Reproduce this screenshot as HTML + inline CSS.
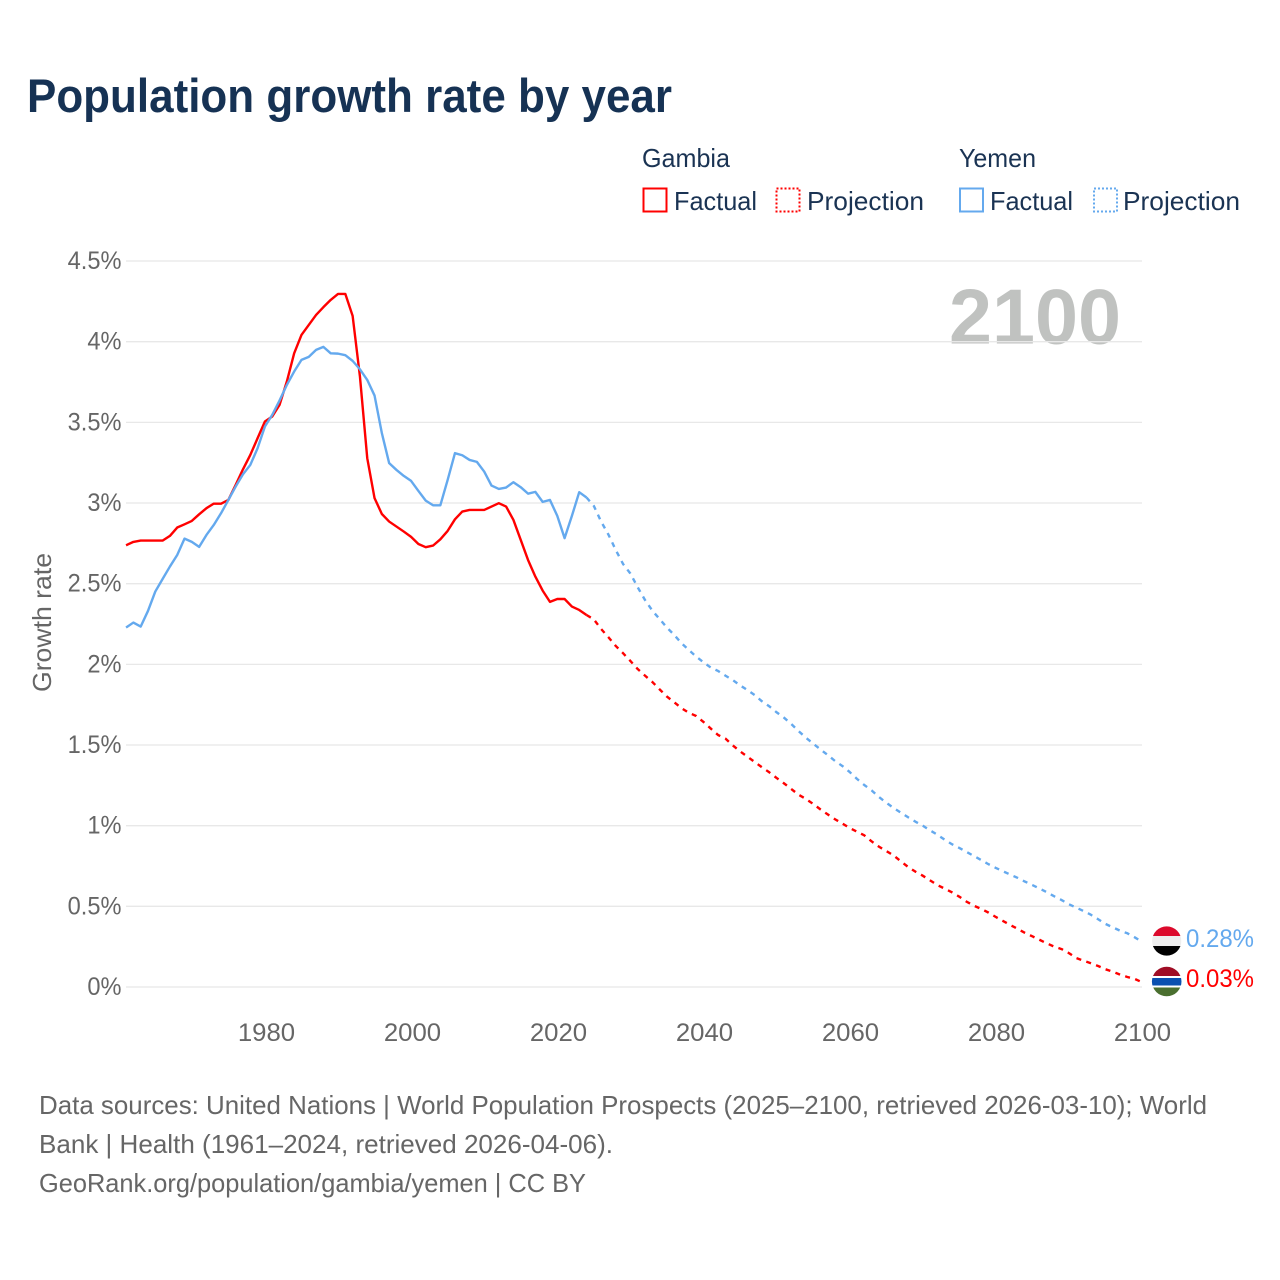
<!DOCTYPE html>
<html lang="en">
<head>
<meta charset="utf-8">
<title>Population growth rate by year</title>
<style>
html,body{margin:0;padding:0;background:#fff;width:1280px;height:1280px;overflow:hidden}
svg{display:block;font-family:"Liberation Sans",Arial,sans-serif}
</style>
</head>
<body>
<svg id="chart" xmlns="http://www.w3.org/2000/svg" width="1280" height="1280" viewBox="0 0 1280 1280">
  <rect x="0" y="0" width="1280" height="1280" fill="#ffffff"/>
  <text x="27" y="112" font-size="47" font-weight="700" fill="#163254" textLength="645" lengthAdjust="spacingAndGlyphs">Population growth rate by year</text>

  <g font-size="26" fill="#1a3353">
    <text x="642" y="167" textLength="88" lengthAdjust="spacingAndGlyphs">Gambia</text>
    <text x="959" y="167" textLength="77" lengthAdjust="spacingAndGlyphs">Yemen</text>
    <rect x="643.5" y="188.5" width="23" height="23" fill="none" stroke="#ff0000" stroke-width="2"/>
    <text x="674" y="210" textLength="83" lengthAdjust="spacingAndGlyphs">Factual</text>
    <rect x="776.5" y="188.5" width="23" height="23" fill="none" stroke="#ff0000" stroke-width="2" stroke-dasharray="2 2"/>
    <text x="807" y="210" textLength="117" lengthAdjust="spacingAndGlyphs">Projection</text>
    <rect x="960" y="188.5" width="23" height="23" fill="none" stroke="#64a9ee" stroke-width="2"/>
    <text x="990" y="210" textLength="83" lengthAdjust="spacingAndGlyphs">Factual</text>
    <rect x="1094" y="188.5" width="23" height="23" fill="none" stroke="#64a9ee" stroke-width="2" stroke-dasharray="2 2"/>
    <text x="1123" y="210" textLength="117" lengthAdjust="spacingAndGlyphs">Projection</text>
  </g>

  <text x="949" y="343.5" font-size="78" font-weight="700" fill="#c0c2c0" textLength="172" lengthAdjust="spacingAndGlyphs">2100</text>

  <g id="grid"></g>
  <g id="yTicks" font-size="25" fill="#666666" text-anchor="end"></g>
  <g id="xTicks" font-size="25" fill="#666666" text-anchor="middle"></g>

  <text transform="translate(51,622.5) rotate(-90)" text-anchor="middle" font-size="26" fill="#666666" textLength="139" lengthAdjust="spacingAndGlyphs">Growth rate</text>

  <g id="series" fill="none" stroke-width="2.4" stroke-linejoin="round"></g>

  <g>
    <clipPath id="clipYemen"><circle cx="1166.7" cy="941" r="14.6"/></clipPath>
    <g clip-path="url(#clipYemen)">
      <rect x="1150" y="925" width="34" height="11" fill="#dc0a2c"/>
      <rect x="1150" y="936" width="34" height="10" fill="#eeeeee"/>
      <rect x="1150" y="946" width="34" height="12" fill="#000000"/>
    </g>
  </g>
  <g>
    <clipPath id="clipGambia"><circle cx="1166.7" cy="981.5" r="14.8"/></clipPath>
    <g clip-path="url(#clipGambia)">
      <rect x="1150" y="965" width="34" height="11" fill="#a00d25"/>
      <rect x="1150" y="976" width="34" height="2" fill="#ffffff"/>
      <rect x="1150" y="978" width="34" height="7.5" fill="#0a50b0"/>
      <rect x="1150" y="985.5" width="34" height="2" fill="#ffffff"/>
      <rect x="1150" y="987.5" width="34" height="11" fill="#4a6f2f"/>
    </g>
  </g>
  <text x="1186" y="947" font-size="25" fill="#64a9ee" textLength="68" lengthAdjust="spacingAndGlyphs">0.28%</text>
  <text x="1186" y="987" font-size="25" fill="#ff0000" textLength="68" lengthAdjust="spacingAndGlyphs">0.03%</text>

  <g font-size="26" fill="#666666">
    <text x="39" y="1114" textLength="1168" lengthAdjust="spacingAndGlyphs">Data sources: United Nations | World Population Prospects (2025–2100, retrieved 2026-03-10); World</text>
    <text x="39" y="1153" textLength="574" lengthAdjust="spacingAndGlyphs">Bank | Health (1961–2024, retrieved 2026-04-06).</text>
    <text x="39" y="1192" textLength="547" lengthAdjust="spacingAndGlyphs">GeoRank.org/population/gambia/yemen | CC BY</text>
  </g>
</svg>
<script>
const yTickValues = [0, 0.5, 1, 1.5, 2, 2.5, 3, 3.5, 4, 4.5];
const yTickLabels = ['0%', '0.5%', '1%', '1.5%', '2%', '2.5%', '3%', '3.5%', '4%', '4.5%'];
const xTickYears = [1980, 2000, 2020, 2040, 2060, 2080, 2100];
const factualStartYear = 1961;
const projectionStartYear = 2024;

const gambiaFactual = [
  2.738, 2.759, 2.767, 2.767, 2.767, 2.767, 2.796, 2.848, 2.868,
  2.889, 2.930, 2.968, 2.996, 2.996, 3.019, 3.112, 3.209, 3.298, 3.402,
  3.505, 3.536, 3.608, 3.753, 3.928, 4.042, 4.104, 4.166, 4.214, 4.259,
  4.296, 4.296, 4.160, 3.784, 3.278, 3.030, 2.932, 2.885, 2.854, 2.823,
  2.790, 2.746, 2.726, 2.736, 2.775, 2.827, 2.899, 2.947, 2.957, 2.957,
  2.957, 2.978, 2.999, 2.978, 2.895, 2.771, 2.647, 2.544, 2.457, 2.387,
  2.405, 2.405, 2.358, 2.337, 2.306
];
const yemenFactual = [
  2.228, 2.259, 2.234, 2.331, 2.451, 2.529, 2.606, 2.678, 2.779,
  2.759, 2.728, 2.802, 2.864, 2.937, 3.019, 3.102, 3.178, 3.236, 3.340,
  3.474, 3.546, 3.635, 3.732, 3.815, 3.887, 3.906, 3.949, 3.968, 3.928,
  3.926, 3.916, 3.881, 3.829, 3.763, 3.666, 3.433, 3.247, 3.205, 3.168,
  3.137, 3.075, 3.015, 2.986, 2.986, 3.143, 3.309, 3.296, 3.267, 3.255,
  3.195, 3.108, 3.087, 3.096, 3.129, 3.098, 3.058, 3.069, 3.007, 3.019,
  2.920, 2.782, 2.920, 3.067, 3.034
];
const gambiaProjection = [
  2.306, 2.279, 2.219, 2.168, 2.114, 2.069,
  2.021, 1.971, 1.930, 1.891, 1.845, 1.800, 1.765, 1.728, 1.700, 1.680,
  1.643, 1.602, 1.562, 1.540, 1.498, 1.461, 1.428, 1.395, 1.362, 1.331,
  1.296, 1.263, 1.228, 1.192, 1.166, 1.135, 1.101, 1.070, 1.040, 1.013,
  0.986, 0.963, 0.940, 0.903, 0.870, 0.843, 0.816, 0.779, 0.744, 0.715,
  0.690, 0.661, 0.632, 0.610, 0.587, 0.560, 0.529, 0.504, 0.484, 0.461,
  0.434, 0.409, 0.384, 0.360, 0.335, 0.314, 0.292, 0.270, 0.250, 0.235,
  0.210, 0.180, 0.163, 0.147, 0.130, 0.110, 0.095, 0.077, 0.062, 0.050,
  0.030
];
const yemenProjection = [
  3.034, 2.982, 2.885, 2.804, 2.709, 2.622,
  2.563, 2.478, 2.399, 2.333, 2.281, 2.228, 2.182, 2.131, 2.089, 2.048,
  2.013, 1.980, 1.959, 1.930, 1.903, 1.870, 1.841, 1.810, 1.771, 1.740,
  1.703, 1.670, 1.631, 1.587, 1.546, 1.509, 1.473, 1.438, 1.401, 1.370,
  1.333, 1.290, 1.252, 1.219, 1.178, 1.143, 1.110, 1.081, 1.052, 1.025,
  1.000, 0.971, 0.944, 0.913, 0.885, 0.862, 0.837, 0.812, 0.787, 0.761,
  0.738, 0.717, 0.696, 0.676, 0.653, 0.632, 0.610, 0.587, 0.562, 0.539,
  0.513, 0.492, 0.471, 0.448, 0.420, 0.391, 0.370, 0.349, 0.333, 0.308,
  0.280
];

const NS = 'http://www.w3.org/2000/svg';
function xScale(year) { return 1142 - (2100 - year) * 7.309; }
function xTickScale(year) { return 1142.5 - (2100 - year) * 7.3; }
function yScale(value) { return 987 - value * 161.33; }
function pathFrom(values, startYear) {
  return values.map(function (v, i) {
    return (i ? 'L' : 'M') + xScale(startYear + i).toFixed(2) + ' ' + yScale(v).toFixed(2);
  }).join('');
}
function fitWidth(textEl, factor) {
  const natural = textEl.getComputedTextLength();
  textEl.setAttribute('textLength', (natural * factor).toFixed(2));
  textEl.setAttribute('lengthAdjust', 'spacingAndGlyphs');
}

const gridGroup = document.getElementById('grid');
const yTickGroup = document.getElementById('yTicks');
const xTickGroup = document.getElementById('xTicks');
const seriesGroup = document.getElementById('series');

yTickValues.forEach(function (v, i) {
  const line = document.createElementNS(NS, 'line');
  
  
  line.setAttribute('x1', 126);
  line.setAttribute('x2', 1142);
  line.setAttribute('y1', yScale(v));
  line.setAttribute('y2', yScale(v));
  line.setAttribute('stroke', '#e8e8e8');
  line.setAttribute('stroke-width', '1.3');
  gridGroup.appendChild(line);

  const label = document.createElementNS(NS, 'text');
  
  
  label.setAttribute('x', 121.5);
  label.setAttribute('y', yScale(v) + 8);
  label.textContent = yTickLabels[i];
  yTickGroup.appendChild(label);
  fitWidth(label, 0.945);
});

xTickYears.forEach(function (year) {
  const label = document.createElementNS(NS, 'text');
  
  
  label.setAttribute('x', xTickScale(year));
  label.setAttribute('y', 1041);
  label.textContent = String(year);
  xTickGroup.appendChild(label);
  fitWidth(label, 1.03);
});

function addGambiaFactual() {
  const p = document.createElementNS(NS, 'path');
  
  
  p.setAttribute('d', pathFrom(gambiaFactual, factualStartYear));
  p.setAttribute('stroke', '#ff0000');
  seriesGroup.appendChild(p);
}
function addYemenFactual() {
  const p = document.createElementNS(NS, 'path');
  
  
  p.setAttribute('d', pathFrom(yemenFactual, factualStartYear));
  p.setAttribute('stroke', '#64a9ee');
  seriesGroup.appendChild(p);
}
function addGambiaProjection() {
  const p = document.createElementNS(NS, 'path');
  
  
  p.setAttribute('d', pathFrom(gambiaProjection, projectionStartYear));
  p.setAttribute('stroke', '#ff0000');
  p.setAttribute('stroke-dasharray', '5 5.4');
  seriesGroup.appendChild(p);
}
function addYemenProjection() {
  const p = document.createElementNS(NS, 'path');
  
  
  p.setAttribute('d', pathFrom(yemenProjection, projectionStartYear));
  p.setAttribute('stroke', '#64a9ee');
  p.setAttribute('stroke-dasharray', '5 5.4');
  seriesGroup.appendChild(p);
}
addGambiaFactual();
addYemenFactual();
addGambiaProjection();
addYemenProjection();
</script>
</body>
</html>
